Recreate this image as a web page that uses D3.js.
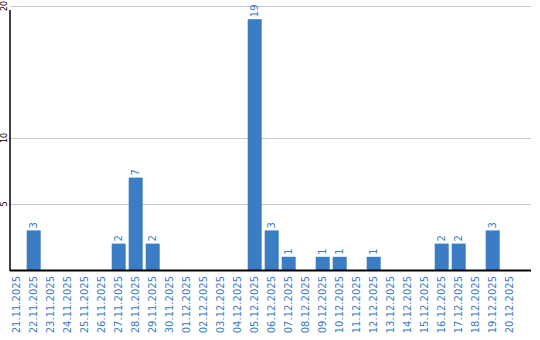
<!DOCTYPE html>
<meta charset="utf-8">
<style>
body { margin: 0; background: #fff; }
text { font-family: "DejaVu Sans", sans-serif; }
</style>
<body>
<svg width="540" height="340"></svg>
<script src="https://d3js.org/d3.v7.min.js"></script>
<script>

var dates = ["21.11.2025","22.11.2025","23.11.2025","24.11.2025","25.11.2025","26.11.2025",
  "27.11.2025","28.11.2025","29.11.2025","30.11.2025","01.12.2025","02.12.2025","03.12.2025",
  "04.12.2025","05.12.2025","06.12.2025","07.12.2025","08.12.2025","09.12.2025","10.12.2025",
  "11.12.2025","12.12.2025","13.12.2025","14.12.2025","15.12.2025","16.12.2025","17.12.2025",
  "18.12.2025","19.12.2025","20.12.2025"];
var counts = [0,3,0,0,0,0,2,7,2,0,0,0,0,0,19,3,1,0,1,1,0,1,0,0,0,2,2,0,3,0];
var yTicks = [5, 10, 20];

var svg = d3.select("svg"),
    blue = "#3b7dc4",
    plotLeft = 10, plotRight = 531, plotTop = 6, plotBottom = 270;

var x = d3.scaleBand()
    .domain(dates)
    .range([9.7, 9.7 + 17 * 29.824])
    .paddingInner(3 / 17)
    .paddingOuter(0);

var y = d3.scaleLinear().domain([0, 20]).range([plotBottom, plotTop]);

// gridlines
svg.selectAll(".grid")
  .data(yTicks)
  .enter().append("line")
    .attr("x1", plotLeft).attr("x2", plotRight)
    .attr("y1", d => Math.round(y(d)) + 0.5).attr("y2", d => Math.round(y(d)) + 0.5)
    .attr("stroke", "#c8c8c8")
    .attr("stroke-width", 1);

// y tick labels
svg.selectAll(".ylab")
  .data(yTicks)
  .enter().append("text")
    .attr("transform", d => "translate(7," + y(d) + ") rotate(-90)")
    .attr("text-anchor", "middle")
    .attr("font-size", 8)
    .attr("fill", "#000")
    .text(d => d);

// bars
svg.selectAll(".bar")
  .data(counts)
  .enter().append("rect")
    .attr("x", (d, i) => x(dates[i]))
    .attr("y", d => y(d))
    .attr("width", x.bandwidth())
    .attr("height", d => plotBottom - y(d))
    .attr("fill", blue);

// value labels
counts.forEach(function(d, i) {
  if (d > 0) {
    svg.append("text")
      .attr("transform", "translate(" + (x(dates[i]) + x.bandwidth() / 2 + 3.5) + "," + (y(d) - 2) + ") rotate(-90)")
      .attr("text-anchor", "start")
      .attr("font-size", 10)
      .attr("fill", blue)
      .text(d);
  }
});

// axis lines
svg.append("line")
    .attr("x1", plotLeft).attr("x2", plotLeft)
    .attr("y1", 10).attr("y2", plotBottom + 1)
    .attr("stroke", "#000").attr("stroke-width", 1.5);
svg.append("line")
    .attr("x1", plotLeft).attr("x2", plotRight)
    .attr("y1", plotBottom + 0.5).attr("y2", plotBottom + 0.5)
    .attr("stroke", "#000").attr("stroke-width", 2);

// x labels
svg.selectAll(".xlab")
  .data(dates)
  .enter().append("text")
    .attr("transform", d => "translate(" + (x(d) + x.bandwidth() / 2 + 3.5) + ",276) rotate(-90)")
    .attr("text-anchor", "end")
    .attr("font-size", 10)
    .attr("fill", blue)
    .text(d => d);

</script>
